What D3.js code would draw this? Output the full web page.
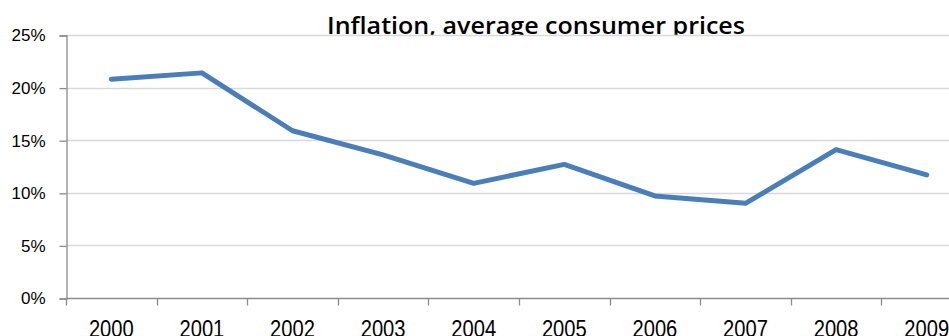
<!DOCTYPE html>
<html>
<head>
<meta charset="utf-8">
<script src="https://cdn.jsdelivr.net/npm/d3@7"></script>
<style>
  html, body { margin: 0; padding: 0; background: #fff; overflow: hidden; }
  svg { display: block; }
</style>
</head>
<body>
<svg id="chart" width="949" height="336"></svg>
<script>
// Inflation, average consumer prices (annual %, 2000–2009)
const years = ["2000", "2001", "2002", "2003", "2004", "2005", "2006", "2007", "2008", "2009"];
const inflation = [20.8, 21.4, 15.9, 13.6, 10.9, 12.7, 9.7, 9.0, 14.1, 11.7];
const yTicks = [0, 5, 10, 15, 20, 25];
const titleText = "Inflation, average consumer prices";

const svg = d3.select("#chart");
const W = 949, H = 336;

// Plot area runs off the right edge of the canvas
const plot = { left: 66, top: 35, bottom: 298, right: 66 + 90.6 * years.length };

const x = d3.scaleBand().domain(years).range([plot.left, plot.right]).padding(0);
const y = d3.scaleLinear().domain([0, 25]).range([plot.bottom, plot.top]);

const labelFont = "'Liberation Sans', Arial, sans-serif";

// Title, cut off where the plot area begins
svg.append("defs").append("clipPath").attr("id", "titleClip")
  .append("rect").attr("x", 0).attr("y", 0).attr("width", W).attr("height", plot.top);

svg.append("text")
  .attr("clip-path", "url(#titleClip)")
  .attr("x", 327).attr("y", 33.5)
  .attr("textLength", 418).attr("lengthAdjust", "spacingAndGlyphs")
  .attr("font-family", "'Open Sans', 'Liberation Sans', sans-serif")
  .attr("font-weight", 600)
  .attr("font-size", 24)
  .attr("fill", "#000")
  .text(titleText);

// Horizontal gridlines
svg.append("g").selectAll("line")
  .data(yTicks.filter(d => d > 0))
  .join("line")
  .attr("x1", plot.left).attr("x2", W)
  .attr("y1", d => Math.round(y(d)) + 0.5).attr("y2", d => Math.round(y(d)) + 0.5)
  .attr("stroke", "#d9d9d9").attr("stroke-width", 1.5);

// Y axis
const yAxis = d3.axisLeft(y).tickValues(yTicks).tickFormat(d => d + "%").tickSize(7).tickPadding(14);
const gy = svg.append("g").attr("transform", `translate(${plot.left + 0.5},0.5)`).call(yAxis);
gy.select(".domain").attr("stroke", "#8c8c8c").attr("stroke-width", 1.3);
gy.selectAll(".tick line").attr("stroke", "#8c8c8c").attr("stroke-width", 1.3);
gy.selectAll(".tick text")
  .attr("font-family", labelFont).attr("font-size", 17).attr("fill", "#000");

// X axis with ticks on category boundaries
const gx = svg.append("g").attr("transform", `translate(0,${plot.bottom + 0.5})`);
gx.append("line")
  .attr("x1", plot.left).attr("x2", W)
  .attr("stroke", "#8c8c8c").attr("stroke-width", 1.3);
gx.selectAll("line.tick")
  .data(years)
  .join("line").attr("class", "tick")
  .attr("x1", d => Math.round(x(d)) + 0.5).attr("x2", d => Math.round(x(d)) + 0.5)
  .attr("y1", 0).attr("y2", 7)
  .attr("stroke", "#8c8c8c").attr("stroke-width", 1.3);
gx.selectAll("text")
  .data(years)
  .join("text")
  .attr("transform", d => `translate(${x(d) + x.bandwidth() / 2},${38}) scale(0.84,1)`)
  .attr("text-anchor", "middle")
  .attr("font-family", labelFont).attr("font-size", 24).attr("fill", "#000")
  .text(d => d);

// Inflation line
const line = d3.line()
  .x((d, i) => x(years[i]) + x.bandwidth() / 2)
  .y(d => y(d));

svg.append("path")
  .datum(inflation)
  .attr("d", line)
  .attr("fill", "none")
  .attr("stroke", "#4a7ebb")
  .attr("stroke-width", 5)
  .attr("stroke-linejoin", "round")
  .attr("stroke-linecap", "round");
</script>
</body>
</html>
